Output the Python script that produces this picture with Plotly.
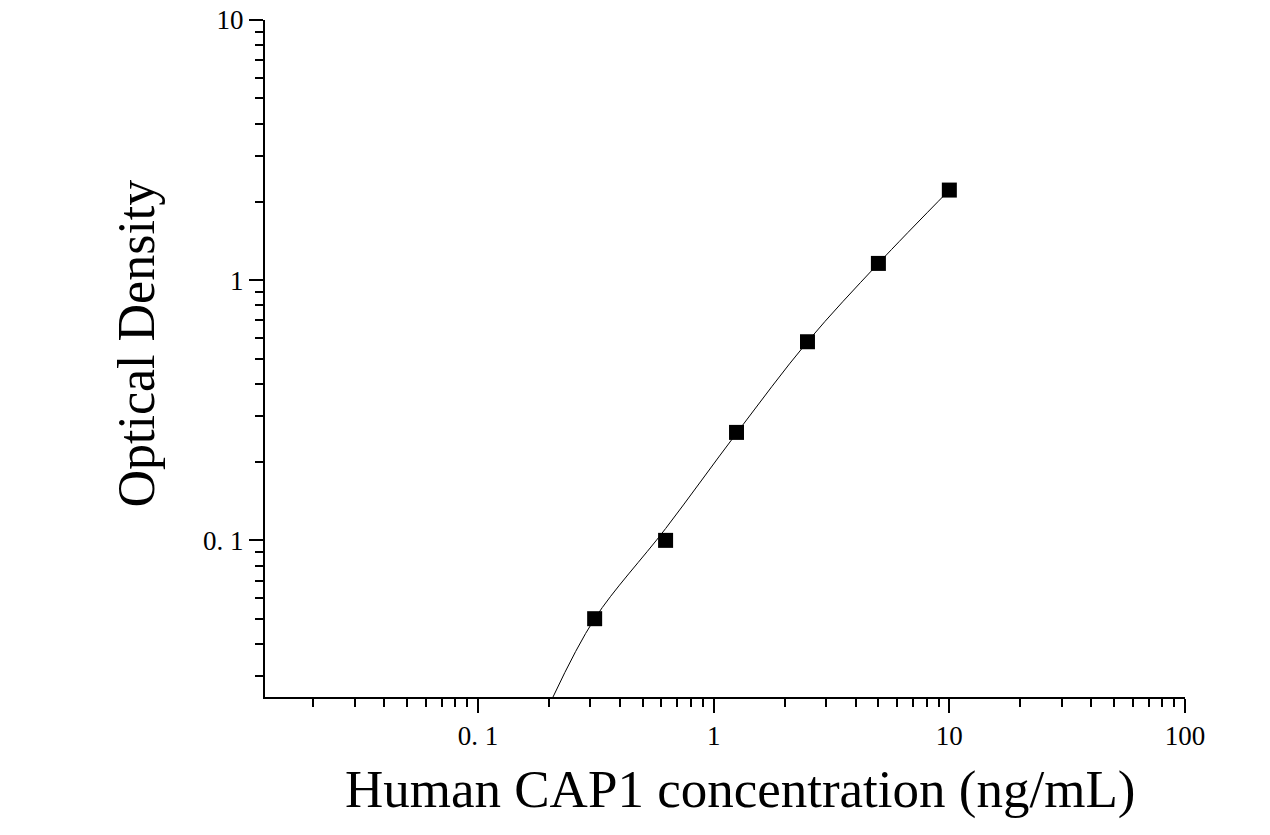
import plotly.graph_objects as go

# Standard points
conc = [0.3125, 0.625, 1.25, 2.5, 5, 10]
od = [0.05, 0.10, 0.26, 0.58, 1.16, 2.22]

# Fitted curve
curve_x = [0.208, 0.3125, 0.625, 1.25, 2.5, 5, 10]
curve_y = [0.025, 0.05, 0.111, 0.258, 0.58, 1.16, 2.22]

x_tickvals = [0.1, 1, 10, 100]
x_ticktext = ["0. 1", "1", "10", "100"]
y_tickvals = [0.1, 1, 10]
y_ticktext = ["0. 1", "1", "10"]

font_family = "Liberation Serif, Times New Roman, serif"

fig = go.Figure()
fig.add_trace(go.Scatter(
    x=curve_x, y=curve_y, mode="lines", line=dict(color="black", width=1, shape="spline", smoothing=1.0),
    showlegend=False, hoverinfo="skip"))
fig.add_trace(go.Scatter(
    x=conc, y=od, mode="markers",
    marker=dict(symbol="square", size=15, color="black"),
    showlegend=False))

axis_common = dict(
    showgrid=False, zeroline=False, showline=True, linecolor="black", linewidth=2,
    ticks="outside", ticklen=14, tickwidth=2, tickcolor="black",
    tickfont=dict(family=font_family, size=27, color="black"),
    minor=dict(ticks="outside", ticklen=8, tickwidth=2, tickcolor="black", dtick="D1", showgrid=False),
    mirror=False, automargin=False,
)

fig.update_xaxes(type="log", range=[-1.904, 2], tickmode="array",
                 tickvals=x_tickvals, ticktext=x_ticktext, **axis_common)
fig.update_yaxes(type="log", range=[-1.602, 1], tickmode="array",
                 tickvals=y_tickvals, ticktext=y_ticktext, **axis_common)

fig.add_annotation(text="Human CAP1 concentration (ng/mL)", xref="paper", yref="paper",
                   x=0.5, y=0, xanchor="center", yanchor="middle", yshift=-92, xshift=15,
                   showarrow=False, font=dict(family=font_family, size=53, color="black"))
fig.add_annotation(text="Optical Density", xref="paper", yref="paper",
                   x=0, y=0.5, xanchor="center", yanchor="middle", xshift=-129, yshift=15,
                   textangle=-90,
                   showarrow=False, font=dict(family=font_family, size=52, color="black"))

fig.update_layout(
    width=1270, height=835,
    margin=dict(l=265, r=85, t=20, b=138),
    paper_bgcolor="white", plot_bgcolor="white",
)

fig.write_html("out.html")
